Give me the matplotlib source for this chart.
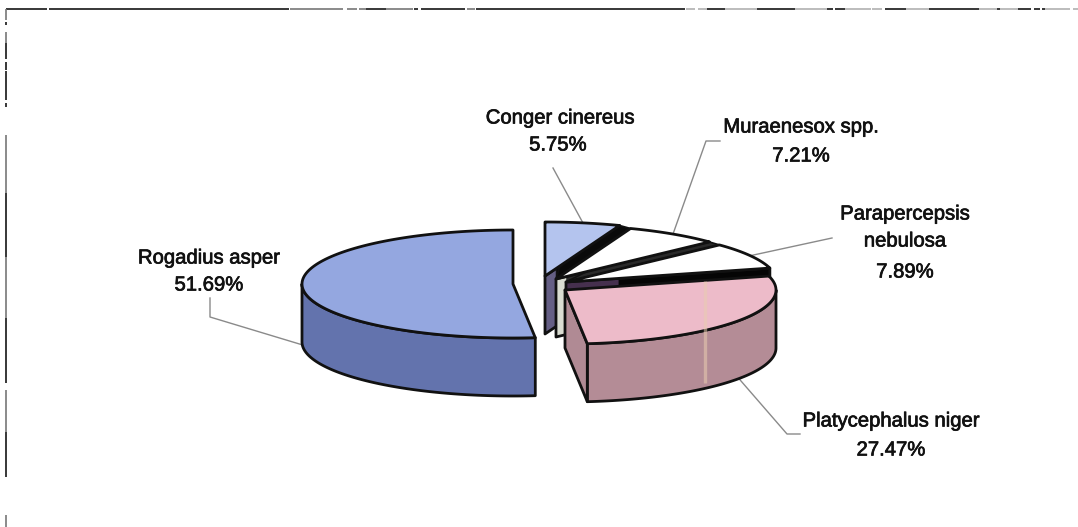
import numpy as np
import matplotlib
matplotlib.use("Agg")
import matplotlib.pyplot as plt
from matplotlib.patches import Polygon
import matplotlib.patheffects as pe

# ---- data (clockwise from 12 o'clock) ----
species = ["Conger cinereus", "Muraenesox spp.", "Parapercepsis nebulosa",
           "Platycephalus niger", "Rogadius asper"]
shares = [5.75, 7.21, 7.89, 27.47, 51.69]
share_labels = ["5.75%", "7.21%", "7.89%", "27.47%", "51.69%"]

# ---- pie layout in pixels ----
centers = [(545, 276), (556, 279), (566, 282), (565, 290), (513, 284)]
RX, RY, DEPTH = 211, 54, 58
top_colors = ["#B4C4EE", "#FFFFFF", "#FFFFFF", "#EDBBC9", "#94A7E0"]
side_colors = [None, None, None, "#B48C96", "#6373AD"]
# wall bands along each slice's closing radius: (from, to, colour)
walls = [
    [(0, .15, "#655F85"), (.15, 1, "#0A0A0A")],
    [(0, .07, "#DADDD2"), (.07, 1, "#2A2A2A")],
    [(0, .26, "#46304E"), (.26, 1, "#050505")],
    [(0, 1, "#B08A94")],
]
EDGE = "#111111"
LW = 2.0

# labels: (text, x, y)
label_lines = [
    [("Conger cinereus", 560, 118), (share_labels[0], 558, 145)],
    [("Muraenesox spp.", 801, 127), (share_labels[1], 801, 156)],
    [("Parapercepsis", 905, 214), ("nebulosa", 905, 241), (share_labels[2], 905, 272)],
    [("Platycephalus niger", 891, 421), (share_labels[3], 891, 450)],
    [("Rogadius asper", 209, 258), (share_labels[4], 209, 285)],
]
# leader line bends after the anchor on the slice
leader_paths = [
    [(553, 168)],
    [(706, 141), (720, 141)],
    [(832, 238)],
    [(787, 434), (800, 434)],
    [(210, 317), (210, 298)],
]
leader_on_bottom = [False, False, False, True, True]

# frame fragments of the scanned page
DARK, MID, PALE = "#151515", "#777777", "#B0B0B0"
frame_top = [(6, 47, DARK), (49, 289, DARK), (290, 304, MID), (304, 324, MID), (324, 338, MID),
             (338, 343, MID), (347, 357, MID), (359, 366, MID), (366, 386, DARK), (386, 413, MID),
             (414, 418, DARK), (421, 465, DARK), (467, 475, MID), (476, 478, DARK), (478, 685, DARK),
             (686, 695, PALE), (698, 707, PALE), (707, 725, DARK), (725, 757, PALE), (757, 795, DARK),
             (795, 827, PALE), (827, 833, DARK), (835, 845, DARK), (845, 871, PALE), (872, 882, PALE),
             (885, 906, DARK), (906, 929, PALE), (929, 979, DARK), (979, 997, PALE), (997, 1000, DARK),
             (1000, 1018, PALE), (1018, 1031, DARK), (1034, 1040, DARK), (1042, 1045, DARK),
             (1045, 1070, PALE), (1073, 1078, PALE)]
frame_left = [(9, 20, MID), (22, 25, DARK), (32, 43, MID), (43, 59, DARK), (62, 70, DARK),
              (71, 100, DARK), (103, 107, DARK), (135, 193, MID), (193, 257, DARK), (257, 318, MID),
              (318, 383, DARK), (390, 432, MID), (432, 477, DARK), (515, 527, MID)]

fig = plt.figure(figsize=(10.78, 5.27), dpi=100)
ax = fig.add_axes([0, 0, 1, 1])
ax.set_xlim(0, 1078)
ax.set_ylim(527, 0)
ax.axis("off")

totals = np.cumsum([0] + shares) / sum(shares) * 360.0


def rim(center, th, drop=0.0):
    th = np.radians(th)
    return np.column_stack([center[0] + RX * np.sin(th),
                            center[1] - RY * np.cos(th) + drop])


def poly(pts, fc, ec=EDGE, lw=LW, z=2):
    ax.add_patch(Polygon(pts, closed=True, fc=fc, ec=ec, lw=lw, joinstyle="round", zorder=z))


z = 2
for i in [4, 0, 1, 2, 3]:
    c = centers[i]
    a0, a1 = totals[i], totals[i + 1]
    # outer side wall, only the part facing the viewer
    s0, s1 = max(a0, 90), min(a1, 270)
    if s1 > s0 and side_colors[i]:
        th = np.linspace(s0, s1, 120)
        poly(np.vstack([rim(c, th), rim(c, th[::-1], DEPTH)]), side_colors[i], z=z)
        z += 1
    # closing radial wall
    if i < 4:
        end = rim(c, [a1])[0]
        apex = np.array(c, float)
        for t0, t1, col in walls[i]:
            p0 = apex + (end - apex) * t0
            p1 = apex + (end - apex) * t1
            poly([p0, p1, p1 + (0, DEPTH), p0 + (0, DEPTH)], col, ec=col, lw=0.6, z=z)
            z += 1
        poly([apex, end, end + (0, DEPTH), apex + (0, DEPTH)], "none", lw=LW, z=z)
        z += 1
        # dark fill of the gap up to where the next slice begins
        if i < 2:
            nxt = centers[i + 1]
            poly([apex + (end - apex) * .2, end, rim(nxt, [a1])[0], nxt],
                 walls[i][-1][2], ec=EDGE, lw=1.2, z=z)
            z += 1
    # top face
    th = np.linspace(a0, a1, 120)
    poly(np.vstack([[c], rim(c, th)]), top_colors[i], z=z)
    z += 1
    # pale scan streak on the large pink slice
    if i == 3:
        ax.plot([705, 705], [281, 383], color="#E9CDB0", lw=2.4, alpha=.55,
                solid_capstyle="butt", zorder=z)
        z += 1

# leaders
for i in range(5):
    mid = (totals[i] + totals[i + 1]) / 2
    start = rim(centers[i], [mid], DEPTH if leader_on_bottom[i] else 0)[0]
    pts = np.vstack([start, leader_paths[i]])
    ax.plot(pts[:, 0], pts[:, 1], color="#8A8A8A", lw=1.0, zorder=1)

# text
for lines in label_lines:
    for txt, x, y in lines:
        t = ax.text(x, y, txt, ha="center", va="center", fontsize=14.6,
                    family="Liberation Sans", color="#111111", zorder=100)
        t.set_path_effects([pe.withStroke(linewidth=0.5, foreground="#111111")])

# frame
for x0, x1, col in frame_top:
    ax.plot([x0, x1], [9, 9], color=col, lw=1.2, solid_capstyle="butt", zorder=1)
for y0, y1, col in frame_left:
    ax.plot([6, 6], [y0, y1], color=col, lw=1.2, solid_capstyle="butt", zorder=1)

fig.savefig("out.png", dpi=100, facecolor="white")
